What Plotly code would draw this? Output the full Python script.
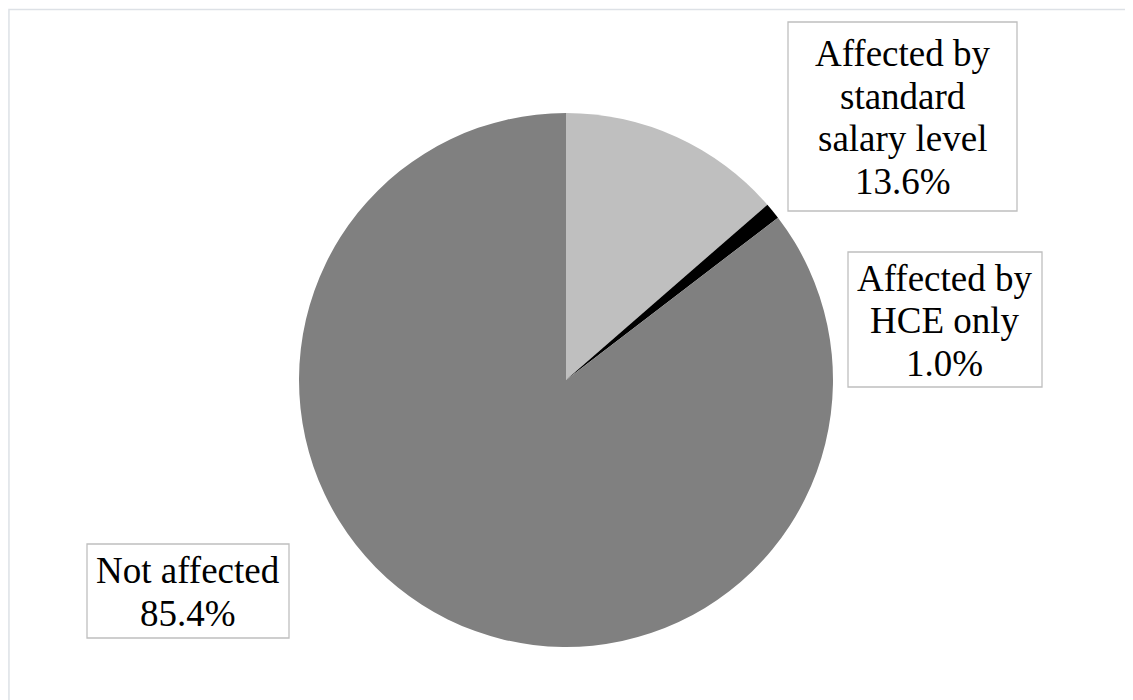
import plotly.graph_objects as go

categories = ["Affected by standard salary level", "Affected by HCE only", "Not affected"]
values = [13.6, 1.0, 85.4]
label_lines = [["Affected by", "standard", "salary level"],
               ["Affected by", "HCE only"],
               ["Not affected"]]
colors = ["#bfbfbf", "#000000", "#808080"]

W, H = 1133, 700
OFF = 8  # page body margin offset

fig = go.Figure()
fig.add_trace(go.Pie(
    labels=categories,
    values=values,
    sort=False,
    direction="clockwise",
    rotation=0,
    marker=dict(colors=colors, line=dict(width=0)),
    textinfo="none",
    hoverinfo="label+percent",
    showlegend=False,
    domain=dict(x=[(299 - OFF) / W, (833 - OFF) / W],
                y=[1 - (647 - OFF) / H, 1 - (113 - OFF) / H]),
))


def px_x(x):
    return (x - OFF) / W


def px_y(y):
    return 1 - (y - OFF) / H


# label boxes: (left, top, right, bottom) in page pixels
boxes = [(788, 22, 1017, 211), (848, 252, 1042, 387), (87, 544, 289, 638)]
LINE = 42.5
for lines, val, (l, t, r, b) in zip(label_lines, values, boxes):
    fig.add_shape(type="rect", xref="paper", yref="paper",
                  x0=px_x(l), x1=px_x(r), y0=px_y(b), y1=px_y(t),
                  line=dict(color="#bfbfbf", width=1.3), fillcolor="white",
                  layer="above")
    all_lines = lines + [f"{val:.1f}%"]
    n = len(all_lines)
    cx = (l + r) / 2
    cy = (t + b) / 2 + 1
    for i, txt in enumerate(all_lines):
        yy = cy + (i - (n - 1) / 2) * LINE
        fig.add_annotation(
            x=px_x(cx), y=px_y(yy), xref="paper", yref="paper",
            xanchor="center", yanchor="middle",
            text=txt, showarrow=False,
            font=dict(family="Times New Roman, serif", size=37, color="black"),
        )

# outer frame
fig.add_shape(type="rect", xref="paper", yref="paper",
              x0=px_x(8.5) + 0.0004, y0=px_y(9.5), x1=1.2, y1=-0.2,
              line=dict(color="#dde1e6", width=1.5), layer="below")

fig.update_layout(
    width=W, height=H,
    margin=dict(l=0, r=0, t=0, b=0),
    paper_bgcolor="white",
    plot_bgcolor="white",
)

fig.write_html("out.html")
